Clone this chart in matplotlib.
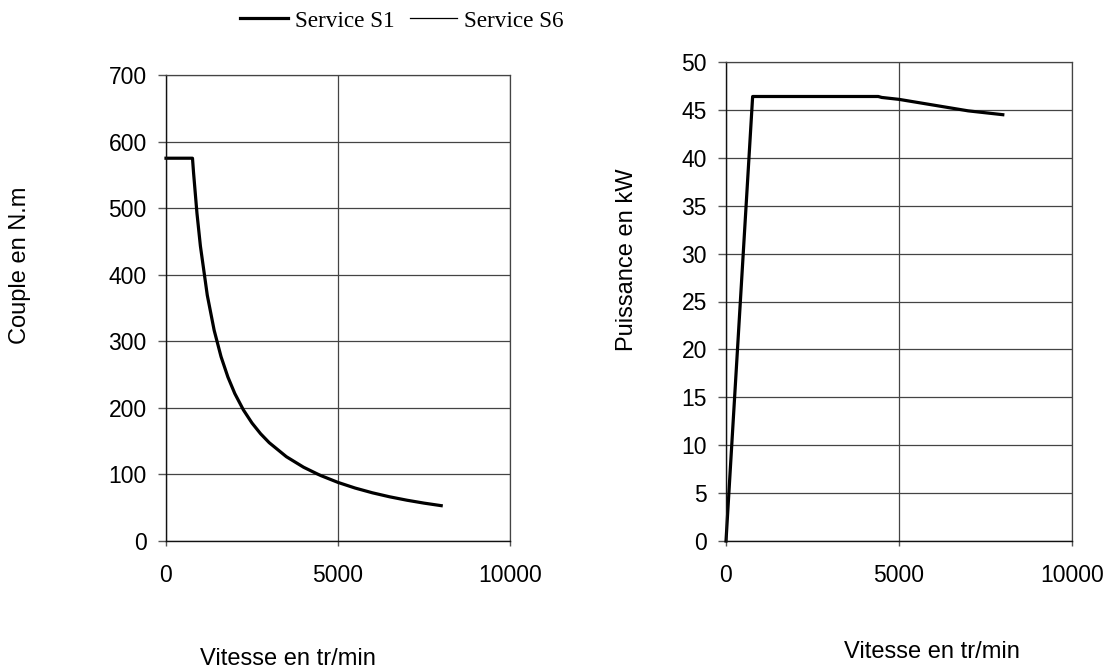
import matplotlib
matplotlib.use("Agg")
import matplotlib.pyplot as plt

speed = [0, 770, 800, 900, 1000, 1200, 1400, 1600, 1800, 2000, 2250, 2500, 2750, 3000,
         3500, 4000, 4400, 4500, 5000, 5500, 6000, 6500, 7000, 7500, 8000]
torque_s1 = [575, 575, 553.8, 492.3, 443.1, 369.2, 316.5, 276.9, 246.2, 221.5, 196.9, 177.2,
             161.1, 147.7, 126.6, 110.8, 100.7, 98.3, 88.0, 79.5, 72.4, 66.4, 61.3, 56.9, 53.1]
power_s1 = [0, 46.4, 46.4, 46.4, 46.4, 46.4, 46.4, 46.4, 46.4, 46.4, 46.4, 46.4,
            46.4, 46.4, 46.4, 46.4, 46.4, 46.3, 46.1, 45.8, 45.5, 45.2, 44.9, 44.7, 44.5]

legend_labels = ["Service S1", "Service S6"]
x_ticks = [0, 5000, 10000]
torque_ticks = [0, 100, 200, 300, 400, 500, 600, 700]
power_ticks = [0, 5, 10, 15, 20, 25, 30, 35, 40, 45, 50]

W, H = 1109, 668
fig = plt.figure(figsize=(W / 100, H / 100), dpi=100)
lab_font = dict(family="Liberation Sans", size=17)

def style(ax, yticks):
    ax.set_xlim(0, 10000)
    ax.set_ylim(yticks[0], yticks[-1])
    ax.set_xticks(x_ticks)
    ax.set_yticks(yticks)
    for s in ["left", "bottom"]:
        ax.spines[s].set_color("#111111")
        ax.spines[s].set_linewidth(1.0)
    for s in ["top", "right"]:
        ax.spines[s].set_color("#444444")
        ax.spines[s].set_linewidth(0.9)
    ax.tick_params(axis="y", direction="out", length=5.8, width=1, color="#555555", pad=8)
    ax.tick_params(axis="x", direction="out", length=3.5, width=1, color="#555555", pad=13)
    for lab in ax.get_xticklabels() + ax.get_yticklabels():
        lab.set_fontfamily("Liberation Sans")
        lab.set_fontsize(16.5)
    ax.grid(True, color="#444444", linewidth=0.9)
    ax.set_axisbelow(True)

ax1 = fig.add_axes([166 / W, 1 - 541 / H, 344 / W, (541 - 75) / H])
ax1.plot(speed, torque_s1, color="black", linewidth=2.3, clip_on=False, label=legend_labels[0])
ax1.plot([], [], color="black", linewidth=0.9, label=legend_labels[1])
style(ax1, torque_ticks)

ax2 = fig.add_axes([726 / W, 1 - 541 / H, 346 / W, (541 - 62) / H])
ax2.plot(speed, power_s1, color="black", linewidth=2.3, clip_on=False)
style(ax2, power_ticks)

fig.text(20 / W, 1 - 265 / H, "Couple en N.m", rotation=90, ha="center", va="center", **lab_font)
fig.text(288 / W, 1 - 659 / H, "Vitesse en tr/min", ha="center", va="center", **lab_font)
fig.text(627 / W, 1 - 260 / H, "Puissance en kW", rotation=90, ha="center", va="center", **lab_font)
fig.text(932 / W, 1 - 652 / H, "Vitesse en tr/min", ha="center", va="center", **lab_font)

handles, labels = ax1.get_legend_handles_labels()
fig.legend(handles, labels, loc="center", bbox_to_anchor=(402 / W, 1 - 21 / H),
           ncol=2, frameon=False, prop=dict(family="Liberation Serif", size=16.7),
           handlelength=2.05, handletextpad=0.3, columnspacing=0.65, borderpad=0)

fig.savefig("out.png", dpi=100)
